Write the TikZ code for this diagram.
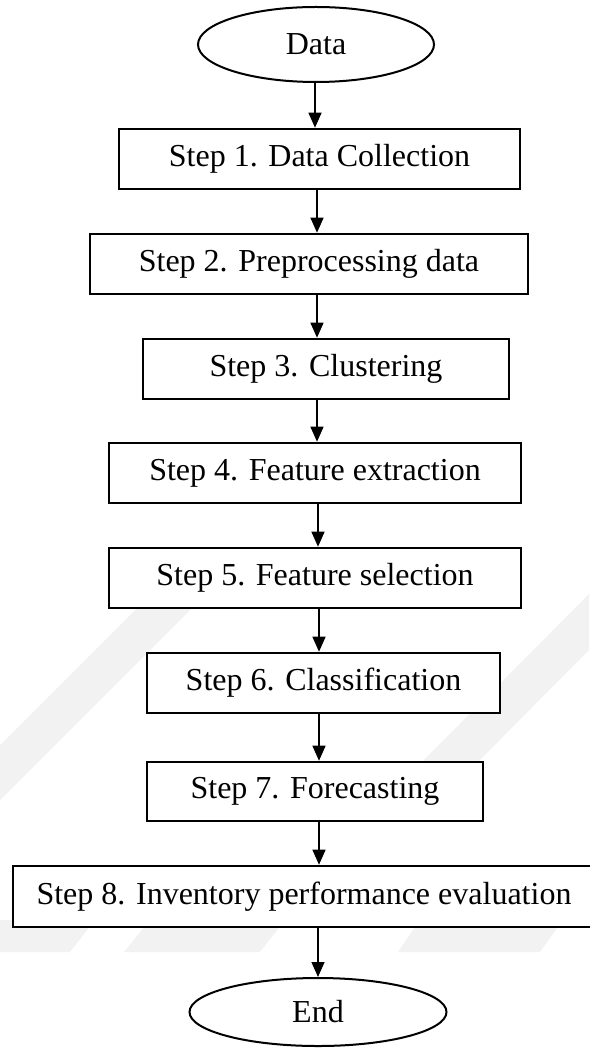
\documentclass[tikz,border=0pt]{standalone}
\usepackage{fontspec}
\setmainfont{Liberation Serif}
\usetikzlibrary{arrows.meta,shapes.geometric}
\definecolor{wm}{gray}{0.95}
\begin{document}
\begin{tikzpicture}[x=1pt,y=-1pt,
  stepbox/.style={draw, line width=2.6pt, rectangle, fill=white, minimum height=60pt, inner sep=0pt, font=\fontsize{32}{38}\selectfont},
  termnode/.style={draw, line width=2pt, ellipse, fill=white, inner sep=0pt, font=\fontsize{32}{38}\selectfont},
  conn/.style={line width=1.3pt, -{Triangle[length=15pt,width=13pt]}},
  wmark/.style={fill=wm, draw=none}]
\useasboundingbox (0,0) rectangle (589,1048);
% faint watermark bands
\path[wmark] (0,800) -- (0,745) -- (190,555) -- (245,555) -- cycle;
\path[wmark] (589,594) -- (589,650) -- (470,770) -- (414,770) -- cycle;
\path[wmark] (0,920) -- (95,920) -- (70,952) -- (0,952) -- cycle;
\path[wmark] (150,920) -- (285,920) -- (260,952) -- (124,952) -- cycle;
\path[wmark] (420,920) -- (563,920) -- (540,952) -- (398,952) -- cycle;
\node[termnode, minimum width=236pt, minimum height=75pt] (data) at (316,44.5) {Data};
\node[stepbox, minimum width=401pt] (s1) at (319.5,159) {Step 1. Data Collection};
\node[stepbox, minimum width=438pt] (s2) at (309,264) {Step 2. Preprocessing data};
\node[stepbox, minimum width=366pt] (s3) at (326,369) {Step 3. Clustering};
\node[stepbox, minimum width=412pt] (s4) at (315,473) {Step 4. Feature extraction};
\node[stepbox, minimum width=412pt] (s5) at (315,578) {Step 5. Feature selection};
\node[stepbox, minimum width=353pt] (s6) at (323.5,683) {Step 6. Classification};
\node[stepbox, minimum width=336pt, minimum height=59pt] (s7) at (315,791.5) {Step 7. Forecasting};
\node[stepbox, minimum width=582pt, minimum height=61pt] (s8) at (304,896.5) {Step 8. Inventory performance evaluation};
\node[termnode, minimum width=257pt, minimum height=68pt] (end) at (318,1012) {End};
\draw[conn] (data.south -| 315,0) -- (s1.north -| 315,0);
\draw[conn] (s1.south -| 317,0) -- (s2.north -| 317,0);
\draw[conn] (s2.south -| 317,0) -- (s3.north -| 317,0);
\draw[conn] (s3.south -| 317,0) -- (s4.north -| 317,0);
\draw[conn] (s4.south -| 318,0) -- (s5.north -| 318,0);
\draw[conn] (s5.south -| 319,0) -- (s6.north -| 319,0);
\draw[conn] (s6.south -| 319,0) -- (s7.north -| 319,0);
\draw[conn] (s7.south -| 319,0) -- (s8.north -| 319,0);
\draw[conn] (s8.south -| 318,0) -- (end.north -| 318,0);
\end{tikzpicture}
\end{document}
